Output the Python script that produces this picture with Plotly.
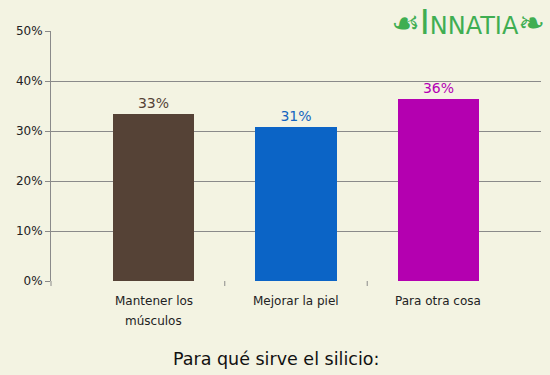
import plotly.graph_objects as go

categories = ["Mantener los<br>músculos", "Mejorar la piel", "Para otra cosa"]
values = [33.5, 30.8, 36.4]
value_labels = ["33%", "31%", "36%"]
bar_colors = ["#554236", "#0b64c6", "#b400b0"]
text_colors = ["#554236", "#1565c0", "#b400b4"]
y_ticks = [0, 10, 20, 30, 40, 50]
y_tick_labels = ["0%", "10%", "20%", "30%", "40%", "50%"]
title_text = "Para qué sirve el silicio:"

bg = "#f3f3e2"
grid = "#8a8a8a"
font = "DejaVu Sans"

x_pos = list(range(len(categories)))

fig = go.Figure()
fig.add_trace(go.Bar(
    x=x_pos, y=values, width=0.573,
    marker=dict(color=bar_colors, line=dict(width=0)),
    text=value_labels, textposition="outside", cliponaxis=False,
    textfont=dict(family=font, size=14, color=text_colors),
    hoverinfo="skip",
))

# boundary tick marks between categories
for b in [0.5, 1.5]:
    fig.add_shape(type="line", xref="x", yref="paper", ysizemode="pixel", yanchor=0,
                  x0=b, x1=b, y0=0, y1=-5, line=dict(color=grid, width=1))
fig.add_shape(type="line", xref="paper", yref="paper", ysizemode="pixel", yanchor=0,
              x0=0, x1=0, y0=0, y1=-5, line=dict(color=grid, width=1))

fig.update_layout(
    width=550, height=375,
    margin=dict(l=51, r=9, t=31, b=94),
    paper_bgcolor=bg, plot_bgcolor=bg,
    showlegend=False,
    bargap=0,
    xaxis=dict(range=[-0.72, 2.72], tickvals=x_pos, showticklabels=False,
               showgrid=False, zeroline=False, showline=False, ticks="",
               fixedrange=True),
    yaxis=dict(range=[0, 50], tickvals=y_ticks, ticktext=y_tick_labels,
               showgrid=True, gridcolor=grid, gridwidth=1,
               zeroline=False, showline=True, linecolor=grid, linewidth=1,
               ticks="outside", ticklen=5, tickcolor=grid,
               tickfont=dict(family=font, size=12, color="#222222"),
               fixedrange=True),
    font=dict(family=font),
)

# category labels, one annotation per line for 20px line spacing
for xi, label in zip(x_pos, categories):
    for li, line in enumerate(label.split("<br>")):
        fig.add_annotation(
            text=line, xref="x", yref="paper", x=xi, y=0,
            yshift=-20 - 20 * li, yanchor="middle", xanchor="center",
            showarrow=False, font=dict(family=font, size=12, color="#222222"),
        )

fig.add_annotation(
    text=title_text, xref="paper", yref="paper", x=0.46, y=0,
    yshift=-66, yanchor="top", xanchor="center", showarrow=False,
    font=dict(family=font, size=17.5, color="#111111"),
)

fig.add_annotation(
    text="<span style='font-size:32px'>☙</span><span style='font-size:34px'>I</span>NNATIA<span style='font-size:32px'>❧</span>",
    xref="paper", yref="paper", x=1, y=1, xanchor="right", yanchor="top",
    xshift=6, yshift=31, showarrow=False,
    font=dict(family="DejaVu Sans", size=24, color="#3fae52"),
)

fig.write_html("out.html", post_script="document.body.style.margin='0';",
               config={"displayModeBar": False})
